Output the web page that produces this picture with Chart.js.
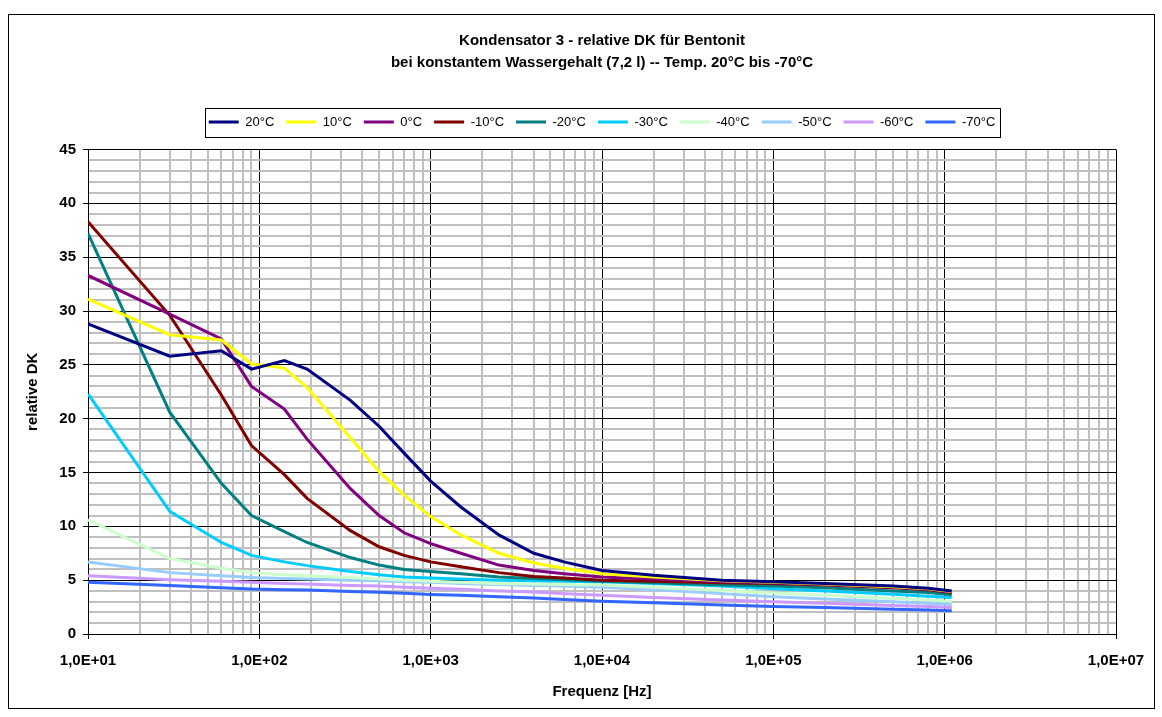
<!DOCTYPE html>
<html>
<head>
<meta charset="utf-8">
<script src="https://cdn.jsdelivr.net/npm/chart.js@4.4.1/dist/chart.umd.min.js"></script>
<style>
  body { margin: 0; background: #fff; }
  #caja { width: 1162px; height: 717px; }
</style>
</head>
<body>
<div id="caja"><canvas id="grafico" width="1162" height="717"></canvas></div>
<script>
// Frecuencias [Hz]
const frecuencias = [10, 30, 60, 90, 140, 190, 340, 500, 700, 1000, 1500, 2500, 4000, 6000,
  10000, 20000, 50000, 100000, 200000, 500000, 800000, 1100000];

const temperaturas = ['20°C', '10°C', '0°C', '-10°C', '-20°C', '-30°C', '-40°C', '-50°C', '-60°C', '-70°C'];
const colores = ['#000080', '#FFFF00', '#800080', '#800000', '#008080', '#00CCFF', '#CCFFCC', '#99CCFF', '#CC99FF', '#3366FF'];

// relative DK por temperatura
const dk20 = [28.8, 25.8, 26.3, 24.6, 25.4, 24.6, 21.7, 19.3, 16.8, 14.2, 11.8, 9.2, 7.5, 6.7, 5.9, 5.45, 5.0, 4.85, 4.7, 4.45, 4.25, 4.0];
const dk10 = [31.1, 27.8, 27.3, 25.1, 24.7, 22.9, 18.2, 15.1, 12.9, 10.9, 9.2, 7.5, 6.6, 6.1, 5.6, 5.3, 4.95, 4.8, 4.65, 4.4, 4.2, 3.95];
const dk0 = [33.3, 29.7, 27.4, 23.0, 20.9, 18.1, 13.5, 11.0, 9.4, 8.4, 7.5, 6.4, 5.9, 5.6, 5.3, 5.1, 4.85, 4.75, 4.6, 4.35, 4.15, 3.9];
const dkM10 = [38.3, 29.6, 22.2, 17.5, 14.8, 12.6, 9.6, 8.1, 7.3, 6.7, 6.25, 5.7, 5.35, 5.2, 5.0, 4.9, 4.75, 4.7, 4.55, 4.3, 4.1, 3.85];
const dkM20 = [37.2, 20.6, 14.0, 11.0, 9.5, 8.5, 7.1, 6.4, 6.0, 5.8, 5.6, 5.3, 5.15, 5.05, 4.9, 4.75, 4.55, 4.45, 4.3, 4.0, 3.85, 3.65];
const dkM30 = [22.3, 11.4, 8.5, 7.3, 6.7, 6.35, 5.8, 5.5, 5.3, 5.2, 5.1, 5.0, 4.95, 4.9, 4.85, 4.7, 4.45, 4.2, 4.0, 3.7, 3.5, 3.4];
const dkM40 = [10.6, 7.0, 6.1, 5.7, 5.5, 5.4, 5.25, 5.1, 5.0, 4.9, 4.8, 4.7, 4.65, 4.6, 4.55, 4.35, 4.05, 3.8, 3.6, 3.3, 3.15, 3.05];
const dkM50 = [6.7, 5.7, 5.4, 5.25, 5.15, 5.1, 5.0, 4.95, 4.85, 4.8, 4.7, 4.6, 4.5, 4.45, 4.35, 4.1, 3.75, 3.45, 3.25, 3.0, 2.85, 2.75];
const dkM60 = [5.4, 5.05, 4.9, 4.8, 4.7, 4.65, 4.5, 4.45, 4.35, 4.25, 4.15, 4.0, 3.9, 3.75, 3.6, 3.4, 3.15, 3.0, 2.85, 2.65, 2.55, 2.45];
const dkM70 = [4.8, 4.5, 4.3, 4.17, 4.12, 4.08, 3.95, 3.87, 3.78, 3.68, 3.6, 3.45, 3.35, 3.2, 3.05, 2.9, 2.7, 2.55, 2.45, 2.3, 2.22, 2.15];

const series = [dk20, dk10, dk0, dkM10, dkM20, dkM30, dkM40, dkM50, dkM60, dkM70];

function esDecada(v) {
  const e = Math.log10(v);
  return Math.abs(e - Math.round(e)) < 1e-9;
}

// espacio extra debajo de la leyenda
const margenLeyenda = {
  id: 'margenLeyenda',
  beforeInit(chart) {
    const fitOriginal = chart.legend.fit;
    chart.legend.fit = function () {
      fitOriginal.bind(chart.legend)();
      this.height += 11;
    };
  }
};

// marco exterior y caja de la leyenda
const marcoPlugin = {
  id: 'marco',
  afterDraw(chart) {
    const ctx = chart.ctx;
    ctx.save();
    ctx.strokeStyle = '#000';
    ctx.lineWidth = 1;
    ctx.strokeRect(8.5, 14.5, 1146, 694);
    const hb = chart.legend.legendHitBoxes;
    if (hb && hb.length) {
      const izq = Math.min(...hb.map(h => h.left)) - 4;
      const der = Math.max(...hb.map(h => h.left + h.width)) + 4;
      const arr = Math.min(...hb.map(h => h.top)) - 8;
      const aba = Math.max(...hb.map(h => h.top + h.height)) + 8;
      ctx.strokeRect(Math.round(izq) + 0.5, Math.round(arr) + 0.5, Math.round(der - izq), Math.round(aba - arr));
    }
    ctx.restore();
  }
};

const datasets = series.map((d, i) => ({
  label: temperaturas[i],
  data: d.map((v, j) => ({ x: frecuencias[j], y: v })),
  borderColor: colores[i],
  backgroundColor: colores[i],
  borderWidth: 3,
  pointRadius: 0,
  tension: 0,
  fill: false
}));

const fuente = 'Arial, "Liberation Sans", sans-serif';

new Chart(document.getElementById('grafico').getContext('2d'), {
  type: 'line',
  data: { datasets },
  options: {
    responsive: false,
    animation: false,
    layout: { padding: { left: 10, right: 46, top: 15, bottom: 10 } },
    plugins: {
      title: {
        display: true,
        fullSize: false,
        text: ['Kondensator 3 - relative DK für Bentonit', 'bei konstantem Wassergehalt (7,2 l) -- Temp. 20°C bis -70°C'],
        color: '#000',
        font: { family: fuente, size: 15, weight: 'bold', lineHeight: 1.45 },
        padding: { top: 15, bottom: 30 }
      },
      legend: {
        display: true,
        fullSize: false,
        labels: {
          usePointStyle: true,
          pointStyle: 'line',
          pointStyleWidth: 30,
          boxHeight: 13,
          padding: 12,
          color: '#000',
          font: { family: fuente, size: 13 }
        }
      },
      tooltip: { enabled: false }
    },
    scales: {
      x: {
        type: 'logarithmic',
        min: 10,
        max: 1e7,
        afterBuildTicks: scale => {
          const t = [];
          for (let e = 1; e <= 6; e++) {
            for (let k = 1; k <= 9; k++) t.push({ value: k * Math.pow(10, e), major: k === 1 });
          }
          t.push({ value: 1e7, major: true });
          scale.ticks = t;
        },
        afterFit: scale => { scale.height = 73; },
        ticks: {
          autoSkip: false,
          maxRotation: 0,
          color: '#000',
          padding: 13,
          font: { family: fuente, size: 15, weight: 'bold' },
          callback: v => esDecada(v) ? '1,0E+' + String(Math.round(Math.log10(v))).padStart(2, '0') : ''
        },
        grid: {
          color: c => esDecada(c.tick.value) ? '#000' : '#C0C0C0',
          lineWidth: c => esDecada(c.tick.value) ? 1 : 2,
          tickColor: c => esDecada(c.tick.value) ? '#000' : 'rgba(0,0,0,0)',
          tickLength: 5
        },
        border: { color: '#000', width: 1 },
        title: {
          display: true,
          text: 'Frequenz [Hz]',
          color: '#000',
          font: { family: fuente, size: 15, weight: 'bold' },
          padding: { top: 6, bottom: 6 }
        }
      },
      y: {
        min: 0,
        max: 45,
        afterFit: scale => { scale.width = 78; },
        ticks: {
          stepSize: 1,
          autoSkip: false,
          color: '#000',
          padding: 7,
          font: { family: fuente, size: 15, weight: 'bold' },
          callback: v => v % 5 === 0 ? v : ''
        },
        grid: {
          color: c => c.tick.value % 5 === 0 ? '#000' : '#C0C0C0',
          lineWidth: c => c.tick.value % 5 === 0 ? 1 : 2,
          tickColor: c => c.tick.value % 5 === 0 ? '#000' : 'rgba(0,0,0,0)',
          tickLength: 5
        },
        border: { color: '#000', width: 1 },
        title: {
          display: true,
          text: 'relative DK',
          color: '#000',
          font: { family: fuente, size: 15, weight: 'bold' },
          padding: { top: 14, bottom: 4 }
        }
      }
    }
  },
  plugins: [margenLeyenda, marcoPlugin]
});
</script>
</body>
</html>
